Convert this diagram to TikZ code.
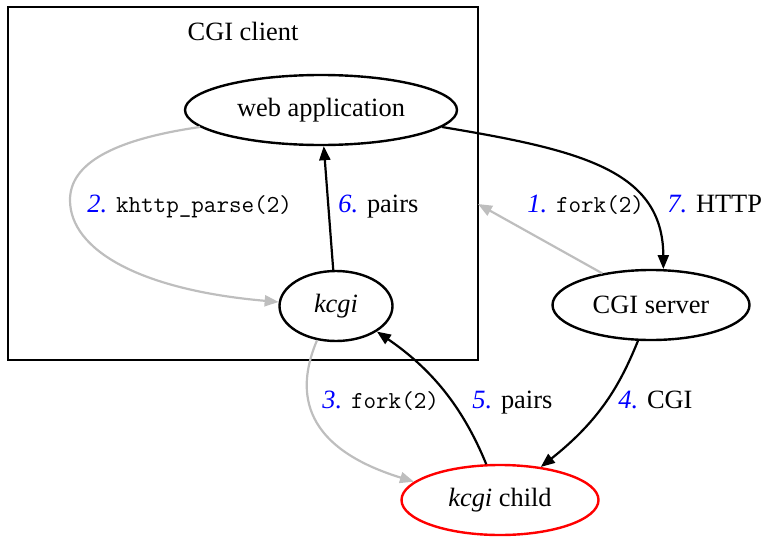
\documentclass[tikz,border=0pt]{standalone}
\usepackage{fontspec}
\setmainfont{Liberation Serif}
\usetikzlibrary{arrows.meta,shapes.geometric}
\definecolor{edgegray}{RGB}{190,190,190}
\newcommand\stepno[1]{\textcolor{blue}{\textit{#1.}}}
\newcommand\codetxt[1]{{\fontsize{12.2}{14}\selectfont\ttfamily #1}}
\begin{document}
\begin{tikzpicture}[x=0.5pt,y=-0.5pt,
  every node/.style={font=\fontsize{13.2}{16}\selectfont},
  proc/.style={draw, ellipse, line width=1.2pt, inner sep=0pt, minimum height=35pt},
  flow/.style={line width=1.1pt, -{Triangle[length=7pt,width=5.5pt]}},
  spawn/.style={flow, draw=edgegray},
  lbl/.style={anchor=base west, inner sep=0pt}]
\useasboundingbox (0,0) rectangle (761,536);

% CGI client cluster
\node[draw, line width=1.2pt, minimum width=235pt, minimum height=176.5pt, inner sep=0pt] (client) at (243,183.5) {};
\node (clientlbl) at (243,31) {CGI client};

% processes
\node[proc, minimum width=136pt] (web) at (321,110) {web application};
\node[proc, minimum width=56.5pt] (kcgi) at (336,306) {\textit{kcgi}};
\node[proc, minimum width=98.5pt] (server) at (651,305) {CGI server};
\node[proc, draw=red, minimum width=98.5pt] (child) at (500,500) {\textit{kcgi} child};

\coordinate (forkin) at (478,204);

% connectors
\draw[spawn] (server.147) -- (forkin);
\draw[flow] (web.352) .. controls (580,150) and (663,170) .. (server.71);
\draw[spawn] (web.188) .. controls (110,140) and (70,165) .. (70,200)
  .. controls (70,250) and (140,290) .. (kcgi.176);
\draw[flow] (kcgi) -- (web);
\draw[spawn] (kcgi.241) .. controls (298,385) and (295,445) .. (child.168);
\draw[flow] (child.111) .. controls (462,405) and (430,368) .. (kcgi.328);
\draw[flow] (server.250) .. controls (620,385) and (600,420) .. (child.39);

% step labels
\node[lbl] (l2) at (87,212) {\stepno{2} \codetxt{khttp\_parse(2)}};
\node[lbl] (l6) at (338,212) {\stepno{6} pairs};
\node[lbl] (l1) at (527,212) {\stepno{1} \codetxt{fork(2)}};
\node[lbl] (l7) at (667,212) {\stepno{7} HTTP};
\node[lbl] (l3) at (322,408) {\stepno{3} \codetxt{fork(2)}};
\node[lbl] (l5) at (472,408) {\stepno{5} pairs};
\node[lbl] (l4) at (618,408) {\stepno{4} CGI};
\end{tikzpicture}
\end{document}
